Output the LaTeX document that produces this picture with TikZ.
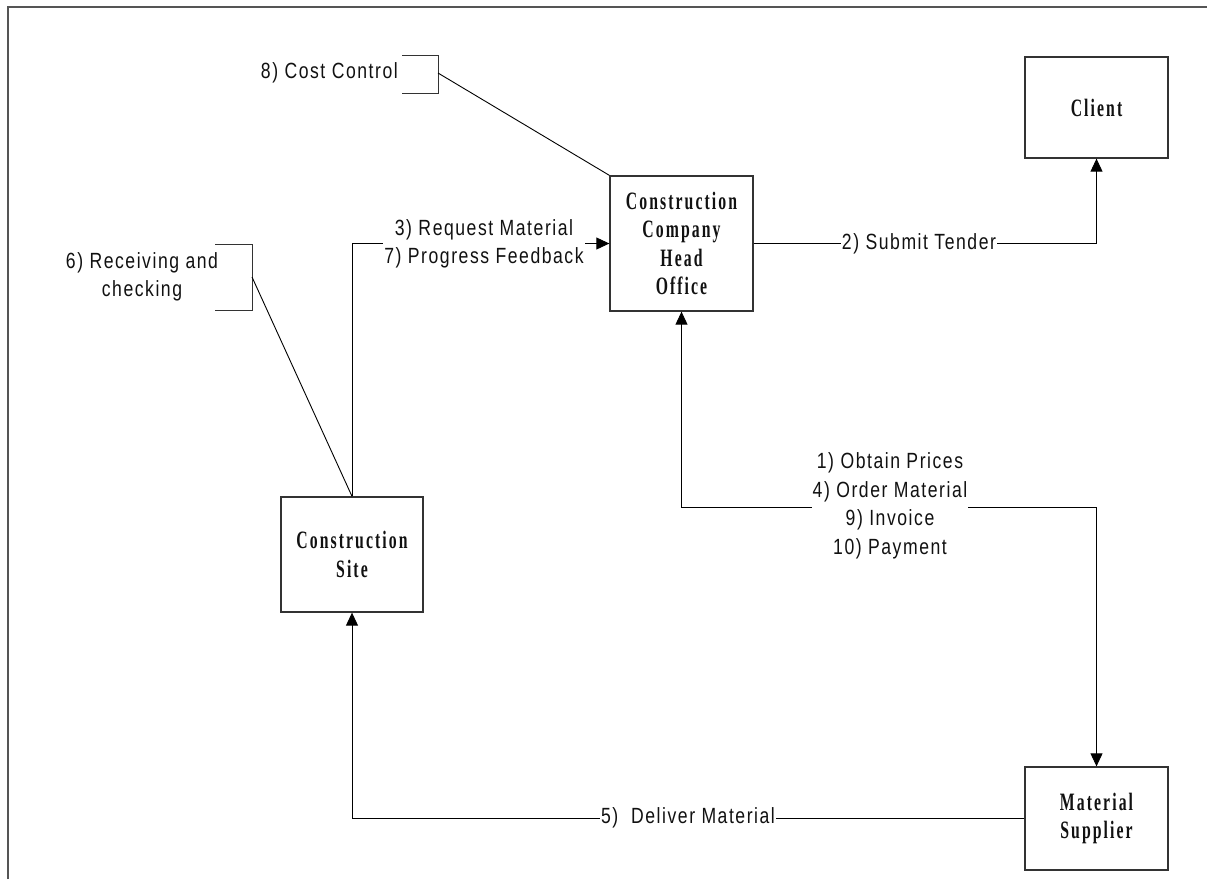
\documentclass[tikz,border=0pt]{standalone}
\usepackage{fontspec}
\newfontfamily\boxfont[FakeStretch=0.63,LetterSpace=8.3]{Liberation Serif}
\newfontfamily\lblfont[FakeStretch=0.8,LetterSpace=7]{Liberation Sans}
\usetikzlibrary{arrows.meta}
\definecolor{framecol}{HTML}{555555}
\definecolor{boxcol}{HTML}{333333}
\definecolor{txtcol}{HTML}{111111}
\tikzset{
  entity/.style={draw=boxcol, line width=1.3pt, rectangle, inner sep=0pt, align=center,
    text=txtcol, font=\boxfont\bfseries\fontsize{25}{28.5}\selectfont},
  flowlabel/.style={fill=white, inner xsep=1pt, inner ysep=1pt, align=center,
    text=txtcol, font=\lblfont\fontsize{22}{28.5}\selectfont},
  notelabel/.style={inner sep=0pt, align=center,
    text=txtcol, font=\lblfont\fontsize{22}{28.5}\selectfont},
  conn/.style={draw=black, line width=0.9pt},
  tip/.tip={Triangle[length=13pt,width=12pt]},
  bracket/.style={draw=boxcol, line width=1pt},
}
\begin{document}
\begin{tikzpicture}[x=1pt,y=-1pt]
\useasboundingbox (0,0) rectangle (1207,879);
\draw[framecol, line width=2pt] (8,879) -- (8,7) -- (1207,7);

% entities
\node[entity, minimum width=143pt, minimum height=135pt] (head) at (681.5,243.5)
  {Construction\\Company\\Head\\Office};
\node[entity, minimum width=143pt, minimum height=101pt] (client) at (1096.5,107.5) {Client};
\node[entity, minimum width=142pt, minimum height=115pt] (site) at (352,554.5)
  {Construction\\Site};
\node[entity, minimum width=143pt, minimum height=103pt] (supplier) at (1096.5,818.5)
  {Material\\Supplier};

% annotation brackets
\node[notelabel, anchor=east] (cclbl) at (398,73) {8) Cost Control};
\draw[bracket] (402,55) -- (438,55) -- (438,93) -- (402,93);
\coordinate (ccb) at (438,73);
\draw[conn] (ccb) -- (head.north west);

\node[notelabel] (rclbl) at (142,277) {6) Receiving and\\checking};
\draw[bracket] (215,244) -- (252,244) -- (252,310) -- (215,310);
\coordinate (rcb) at (252,277);
\draw[conn] (rcb) -- (site.north);

% connectors
\draw[conn, -tip] (site.north) |- (head.west);
\draw[conn, -tip] (head.east) -| (client.south);
\draw[conn, -tip] (supplier.west) -| (site.south);
\coordinate (hs) at (890,507);
\draw[conn, tip-tip] (head.south) |- (hs) -| (supplier.north);

% connector labels
\node[flowlabel] (l37) at (484,244) {3) Request Material\\7) Progress Feedback};
\node[flowlabel] (l2) at (919,243.5) {2) Submit Tender};
\node[flowlabel] (l5) at (688,818) {5)\ \ Deliver Material};
\node[flowlabel] (l149) at (890,506) {1) Obtain Prices\\4) Order Material\\9) Invoice\\10) Payment};
\end{tikzpicture}
\end{document}
